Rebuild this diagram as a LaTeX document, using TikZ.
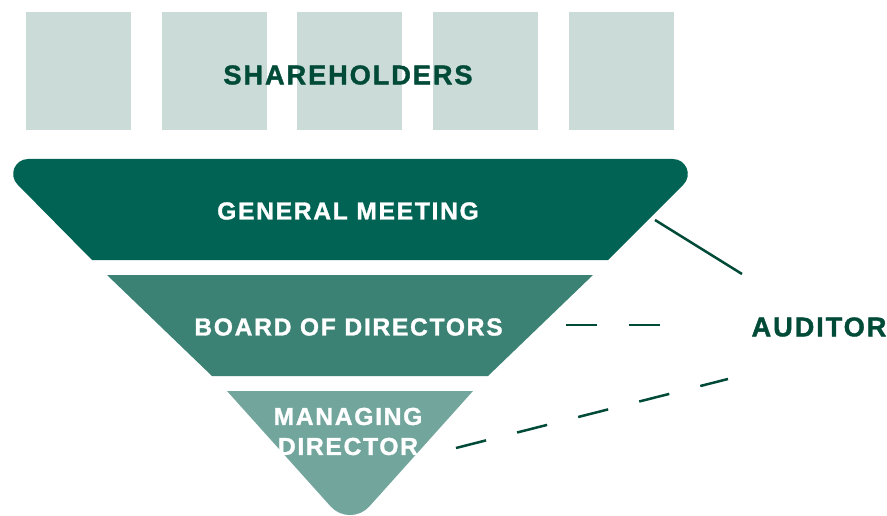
\documentclass[tikz,border=0pt]{standalone}
\usepackage{fontspec}
\setmainfont{Liberation Sans}
\newfontfamily\lblfont{Liberation Sans Bold}[LetterSpace=7,FakeBold=1.3]
\definecolor{gmc}{HTML}{006354}
\definecolor{bodc}{HTML}{3B8275}
\definecolor{mdc}{HTML}{72A69D}
\definecolor{shc}{HTML}{CBDBD8}
\definecolor{dark}{HTML}{004A38}
\tikzset{
  lbl/.style={text=white, font=\lblfont\fontsize{24.6}{30}\selectfont, align=center, inner sep=0pt},
  darklbl/.style={text=dark, font=\lblfont\fontsize{27.2}{32}\selectfont, inner sep=0pt},
  conn/.style={draw=dark, line width=2.5pt},
  dashconn/.style={conn, dash pattern=on 31pt off 32pt},
  box/.style={fill=shc}
}
\begin{document}
\begin{tikzpicture}[x=1pt,y=-1pt]
\useasboundingbox (0,0) rectangle (887,516);
% shareholders boxes
\foreach \x in {26,162,297,433,569}{
  \fill[box] (\x,12) rectangle ++(105,118);
}
\node[darklbl] (sh) at (348,75) {SHAREHOLDERS};
% general meeting
\fill[gmc] (92,260) -- (17.6,184.6) .. controls (8.1,175.1) and (14.8,159) .. (28.2,159)
  -- (672.8,159) .. controls (686.2,159) and (692.9,175.1) .. (683.4,184.6) -- (608,260) -- cycle;
\node[lbl] (gm) at (348,211) {GENERAL MEETING};
% board of directors
\fill[bodc] (107,275) -- (593,275) -- (488,376) -- (212,376) -- cycle;
\node[lbl] (bod) at (348.5,327) {BOARD OF DIRECTORS};
% managing director
\fill[mdc] (227,391) -- (473,391) -- (369.3,506.5) .. controls (359.1,517.9) and (340.9,517.9) .. (330.7,506.5) -- cycle;
\node[lbl] (md) at (348,431.5) {MANAGING\\[0pt]DIRECTOR};
% auditor
\node[darklbl] (aud) at (819,327) {AUDITOR};
\coordinate (gmR) at (655,220);
\coordinate (audA) at (742,274);
\coordinate (bodR) at (566,325);
\coordinate (audB) at (664,325);
\coordinate (mdR) at (456,448);
\coordinate (audC) at (728,379);
\draw[conn] (gmR) -- (audA);
\draw[dashconn] (bodR) -- (audB);
\draw[dashconn] (mdR) -- (audC);
\end{tikzpicture}
\end{document}
